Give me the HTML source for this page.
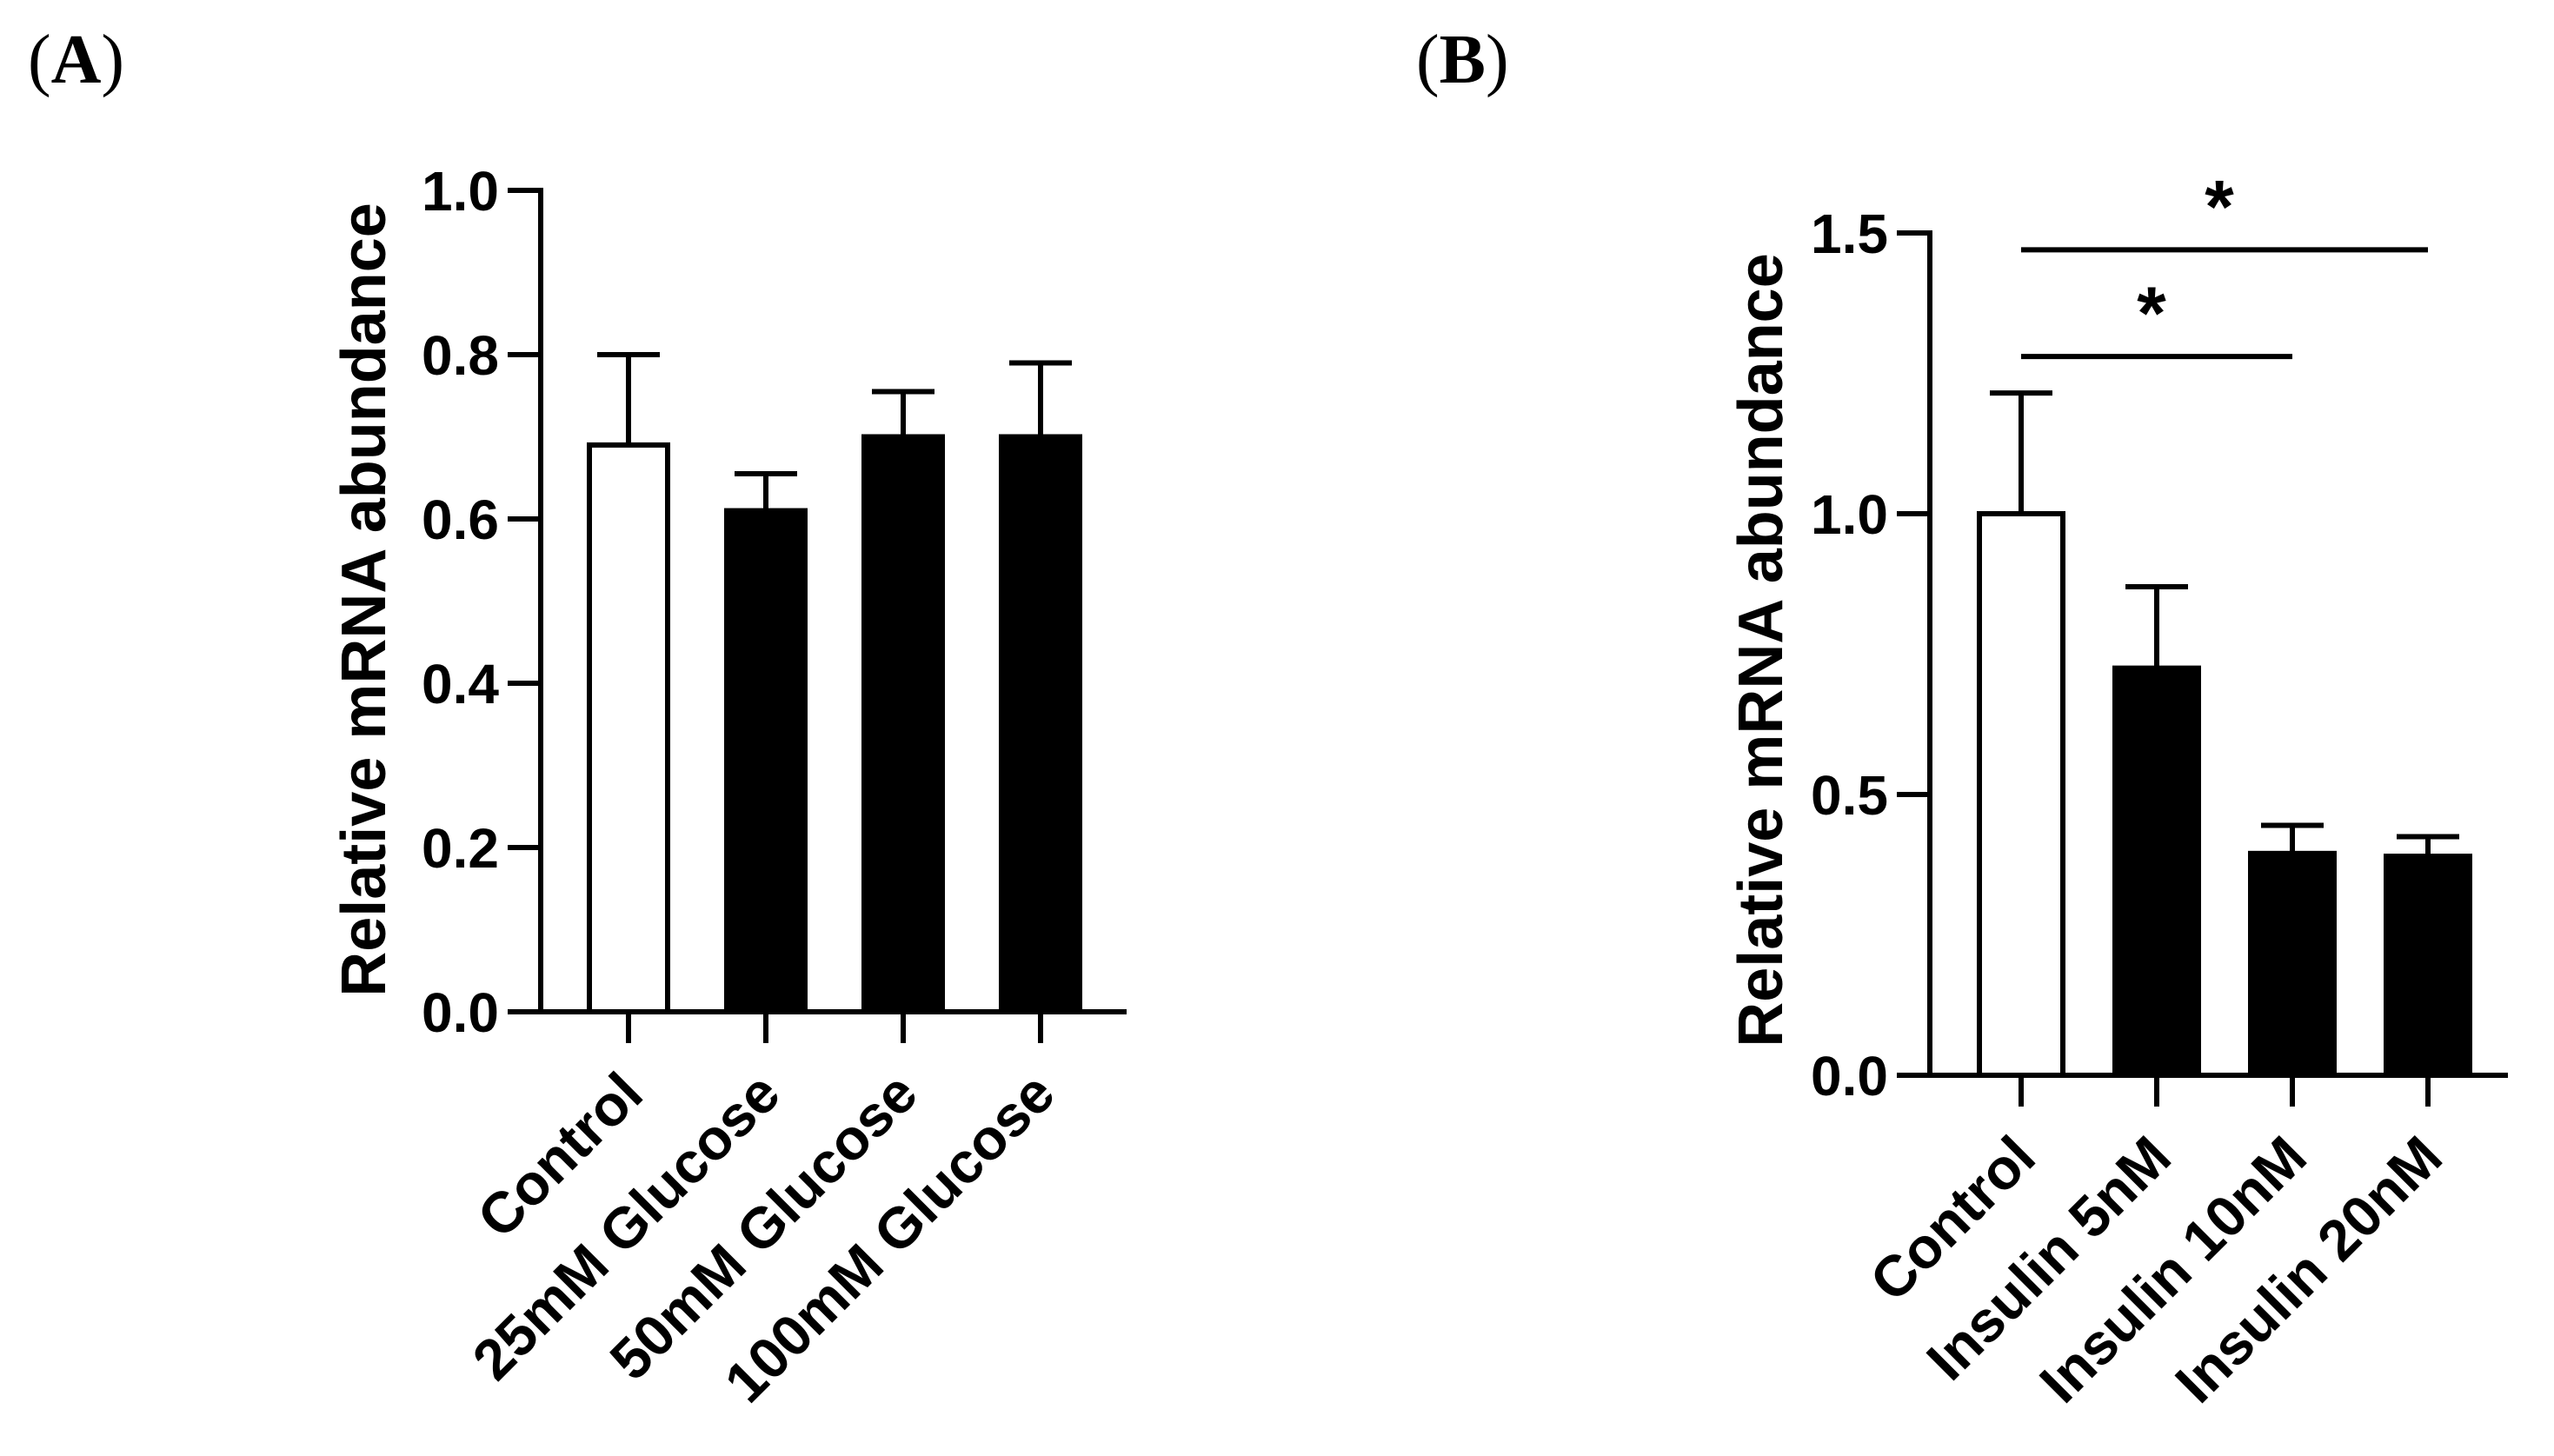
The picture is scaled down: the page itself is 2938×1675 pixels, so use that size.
<!DOCTYPE html>
<html><head><meta charset="utf-8"><style>
html,body{margin:0;padding:0;background:#fff;}
svg{display:block;}
text{font-family:"Liberation Sans",Arial,sans-serif;font-weight:bold;fill:#000;}
.pl{font-family:"Liberation Serif","Times New Roman",serif;}
.pr{font-weight:normal;}
</style></head><body>
<svg id="fig" width="2938" height="1675" viewBox="0 0 2938 1675" xmlns="http://www.w3.org/2000/svg">
<text class="pl" x="32" y="95" font-size="80"><tspan class="pr">(</tspan>A<tspan class="pr">)</tspan></text>
<text class="pl" x="1629" y="95" font-size="80"><tspan class="pr">(</tspan>B<tspan class="pr">)</tspan></text>
</svg>
<script>
// Panel A data
const catsA = ["Control","25mM Glucose","50mM Glucose","100mM Glucose"];
const valsA = [0.69, 0.61, 0.70, 0.70];
const errA = [0.11, 0.045, 0.055, 0.09];
const ticksA = [0.0, 0.2, 0.4, 0.6, 0.8, 1.0];
const tickLabelsA = ["0.0","0.2","0.4","0.6","0.8","1.0"];
// Panel B data
const catsB = ["Control","Insulin 5nM","Insulin 10nM","Insulin 20nM"];
const valsB = [1.0, 0.725, 0.395, 0.39];
const errB = [0.215, 0.145, 0.05, 0.035];
const ticksB = [0.0, 0.5, 1.0, 1.5];
const tickLabelsB = ["0.0","0.5","1.0","1.5"];
const sigFrom = [0, 0];
const sigTo = [2, 3];
const sigLevel = [1.28, 1.47];
const sigText = ["*","*"];

const NS = "http://www.w3.org/2000/svg";
const svg = document.getElementById('fig');
function mk(tag, attrs, parent){
  const e = document.createElementNS(NS, tag);
  for (const k in attrs) e.setAttribute(k, attrs[k]);
  (parent||svg).appendChild(e);
  return e;
}

function panel(cfg){
  const g = mk('g', {});
  
  
  const y = v => cfg.y0 - (v - 0) / cfg.vmax * (cfg.y0 - cfg.ytop);
  const x = i => cfg.x0 + i * cfg.step;
  const sw = 6;
  cfg.vals.forEach((v, i) => {
    const cx = x(i);
    const top = y(v + cfg.errs[i]);
    const el = mk('line', {x1:cx, x2:cx, y1:y(v), y2:top, stroke:'#000','stroke-width':sw}, g);
    
    
    const cap = mk('line', {x1:cx - cfg.capw/2, x2:cx + cfg.capw/2, y1:top, y2:top, stroke:'#000','stroke-width':sw}, g);
    
    
    const r = mk('rect', {x:cx - cfg.bw/2, y:y(v), width:cfg.bw, height:cfg.y0 - y(v), fill: i === 0 ? '#fff' : '#000', stroke:'#000','stroke-width':sw}, g);
    
    
    const t = mk('line', {x1:cx, x2:cx, y1:cfg.y0, y2:cfg.y0 + cfg.tl, stroke:'#000','stroke-width':sw}, g);
    
    
    const lx = cx + 20, ly = cfg.y0 + cfg.tl + 62;
    const lab = mk('text', {x:lx, y:ly, 'font-size':cfg.lfs, 'text-anchor':'end', transform:'rotate(-45 ' + lx + ' ' + ly + ')'}, g);
    lab.textContent = cfg.cats[i];
    
    
  });
  const ya = mk('line', {x1:cfg.ax, x2:cfg.ax, y1:cfg.ytop - 3, y2:cfg.y0 + 3, stroke:'#000','stroke-width':sw}, g);
  
  
  const xa = mk('line', {x1:cfg.ax - 3, x2:cfg.xend, y1:cfg.y0, y2:cfg.y0, stroke:'#000','stroke-width':sw}, g);
  
  
  cfg.ticks.forEach((v, i) => {
    const tk = mk('line', {x1:cfg.ax - 38, x2:cfg.ax, y1:y(v), y2:y(v), stroke:'#000','stroke-width':sw}, g);
    
    
    const tx = mk('text', {x:cfg.ax - 48, y:y(v) + 23, 'font-size':64, 'text-anchor':'end'}, g);
    tx.textContent = cfg.tickLabels[i];
    
    
  });
  const tt = mk('text', {x:cfg.titleX, y:cfg.titleY, 'font-size':72, 'text-anchor':'middle', transform:'rotate(-90 ' + cfg.titleX + ' ' + cfg.titleY + ')'}, g);
  tt.textContent = 'Relative mRNA abundance';
  
  
  return {x, y, g};
}

panel({name:'panel-a-chart', cats:catsA, vals:valsA, errs:errA, ticks:ticksA, tickLabels:tickLabelsA,
  vmax:1.0, y0:1164, ytop:219, ax:622, xend:1296, x0:723, step:158, bw:90, capw:72, tl:36, lfs:66,
  titleX:443, titleY:690});

const pb = panel({name:'panel-b-chart', cats:catsB, vals:valsB, errs:errB, ticks:ticksB, tickLabels:tickLabelsB,
  vmax:1.5, y0:1237, ytop:268, ax:2220, xend:2885, x0:2325, step:156, bw:96, capw:72, tl:36, lfs:66,
  titleX:2050, titleY:748});

sigFrom.forEach((f, i) => {
  const yy = pb.y(sigLevel[i]);
  const l = mk('line', {x1:pb.x(sigFrom[i]), x2:pb.x(sigTo[i]), y1:yy, y2:yy, stroke:'#000','stroke-width':6}, pb.g);
  
  
  const s = mk('text', {x:(pb.x(sigFrom[i]) + pb.x(sigTo[i])) / 2 - 6, y:yy - 20, 'font-size':86, 'text-anchor':'middle'}, pb.g);
  s.textContent = sigText[i];
  
  
});
</script>
</body></html>
